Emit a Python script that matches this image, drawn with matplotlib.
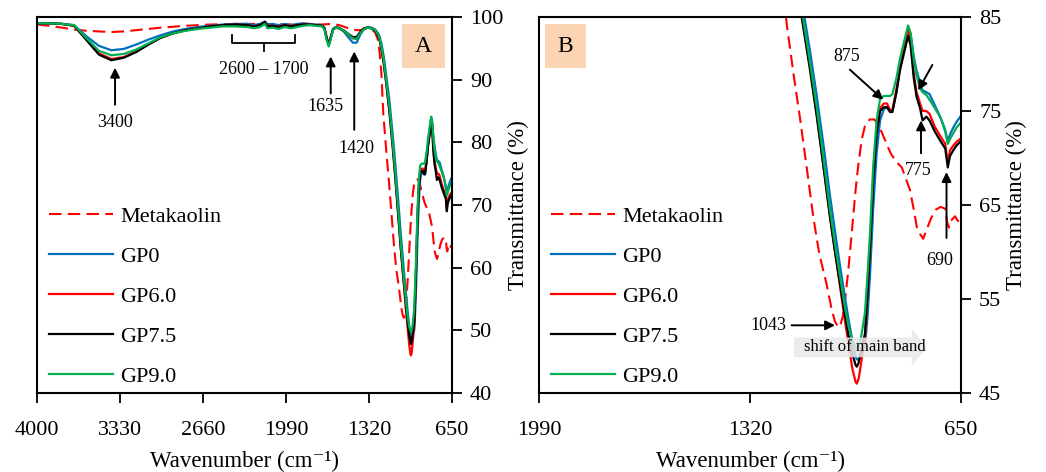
import numpy as np
import matplotlib.pyplot as plt
from matplotlib.patches import FancyArrow, Rectangle

plt.rcParams['font.family'] = ['Liberation Serif', 'DejaVu Serif']

# --- data ---
# wavenumber grid shared by the geopolymer spectra, cm-1
gp_wn = [4000, 3900, 3800, 3700, 3600, 3500, 3400, 3300, 3200, 3100,
         3000, 2900, 2800, 2700, 2600, 2500, 2400, 2300, 2250, 2200,
         2160, 2140, 2100, 2050, 2000, 1950, 1900, 1850, 1800, 1750,
         1700, 1680, 1660, 1645, 1630, 1610, 1590, 1560, 1520, 1480,
         1450, 1420, 1390, 1360, 1330, 1300, 1270, 1240, 1220, 1200,
         1180, 1156, 1130, 1108, 1085, 1066, 1050, 1034, 1020, 1008,
         995, 985, 981, 975, 968, 955, 947, 939, 929, 918,
         907, 895, 885, 875, 868, 855, 844, 830, 818, 810,
         800, 791, 780, 772, 760, 750, 733, 715, 700, 692,
         685, 675, 665, 650]

gp0 = [99.0, 99.0, 98.9, 98.7, 96.9, 95.4, 94.7, 94.9, 95.6, 96.4,
       97.1, 97.7, 98.1, 98.4, 98.6, 98.8, 98.9, 98.9, 98.7, 98.9,
       99.3, 98.8, 98.9, 98.7, 98.9, 98.7, 98.9, 99.0, 98.9, 98.8,
       98.7, 98.3, 96.6, 95.8, 96.8, 98.1, 98.4, 98.3, 97.6, 96.6,
       95.9, 95.9, 97.2, 98.1, 98.4, 98.3, 98.0, 97.2, 95.8, 93.6,
       90.5, 86.8, 81.5, 76.6, 71.0, 66.0, 62.2, 58.5, 55.5, 53.0,
       50.6, 49.0, 48.6, 48.5, 49.0, 50.0, 53.0, 57.5, 64.5, 70.5,
       74.0, 75.2, 75.4, 74.9, 74.9, 77.0, 79.5, 81.8, 83.9, 83.2,
       80.8, 79.3, 78.0, 77.2, 77.0, 76.8, 75.6, 74.3, 73.0, 71.7,
       72.5, 73.2, 73.8, 74.5]

gp6 = [99.0, 99.0, 98.9, 98.6, 96.4, 94.2, 93.3, 93.6, 94.5, 95.7,
       96.7, 97.4, 97.9, 98.2, 98.5, 98.7, 98.8, 98.7, 98.5, 98.7,
       99.1, 98.6, 98.6, 98.5, 98.7, 98.6, 98.7, 98.8, 98.8, 98.7,
       98.6, 98.2, 96.5, 95.5, 96.6, 98.0, 98.3, 98.2, 97.8, 97.1,
       96.6, 96.6, 97.5, 98.2, 98.3, 98.2, 97.8, 96.8, 95.0, 92.5,
       89.4, 85.2, 79.8, 74.7, 68.8, 63.8, 60.0, 56.3, 53.0, 50.4,
       47.6, 46.2, 46.0, 46.5, 48.0, 50.8, 55.4, 60.5, 67.8, 73.0,
       75.3, 75.8, 75.8, 75.1, 75.1, 77.3, 79.6, 81.7, 83.6, 82.6,
       79.0, 77.0, 75.8, 75.0, 75.0, 74.7, 73.3, 72.3, 71.5, 69.4,
       70.8, 71.3, 71.7, 72.1]

gp75 = [99.0, 99.0, 98.9, 98.6, 96.3, 94.0, 93.1, 93.5, 94.4, 95.6,
        96.7, 97.4, 97.9, 98.2, 98.5, 98.7, 98.8, 98.7, 98.5, 98.7,
        99.2, 98.5, 98.6, 98.4, 98.7, 98.5, 98.7, 98.8, 98.8, 98.7,
        98.6, 98.2, 96.5, 95.5, 96.6, 98.0, 98.3, 98.2, 97.8, 97.2,
        96.8, 96.8, 97.6, 98.2, 98.3, 98.2, 97.8, 96.8, 95.0, 92.5,
        89.3, 85.0, 79.5, 74.4, 68.6, 63.7, 60.0, 56.6, 53.6, 51.3,
        49.2, 48.0, 47.8, 48.2, 49.4, 51.3, 55.5, 60.2, 67.3, 72.6,
        75.0, 75.4, 75.4, 74.9, 74.9, 77.0, 79.3, 81.3, 83.0, 82.0,
        78.5, 76.5, 75.3, 74.0, 74.4, 74.0, 72.8, 71.8, 71.0, 69.0,
        70.2, 70.8, 71.3, 71.8]

gp9 = [99.0, 99.0, 98.9, 98.7, 96.6, 94.6, 93.9, 94.1, 94.8, 95.8,
       96.8, 97.4, 97.8, 98.1, 98.3, 98.5, 98.5, 98.4, 98.2, 98.4,
       98.9, 98.2, 98.3, 98.1, 98.4, 98.2, 98.4, 98.6, 98.7, 98.6,
       98.5, 98.0, 96.2, 95.3, 96.4, 97.9, 98.3, 98.2, 97.8, 97.1,
       96.6, 96.5, 97.4, 98.1, 98.3, 98.2, 97.9, 97.0, 95.3, 93.0,
       89.8, 85.8, 80.3, 75.4, 69.5, 64.5, 60.8, 57.4, 54.4, 52.2,
       50.5, 49.9, 49.8, 50.0, 50.8, 53.5, 57.5, 62.0, 69.0, 74.0,
       76.3, 76.6, 76.6, 76.6, 76.8, 78.5, 80.5, 82.5, 84.1, 83.3,
       80.5, 78.8, 77.4, 77.0, 76.7, 76.2, 75.3, 74.3, 72.8, 71.5,
       72.0, 72.6, 73.2, 73.8]

mk_wn = [4000, 3900, 3800, 3700, 3600, 3500, 3400, 3300, 3200, 3100,
         3000, 2800, 2600, 2400, 2200, 2000, 1800, 1700, 1620, 1560,
         1500, 1470, 1420, 1390, 1350, 1320, 1290, 1270, 1250, 1235,
         1220, 1204, 1180, 1161, 1140, 1119, 1100, 1077, 1060, 1050,
         1040, 1034, 1025, 1018, 1008, 997, 985, 976, 965, 955,
         940, 925, 910, 895, 880, 870, 850, 838, 825, 812,
         800, 790, 780, 770, 760, 745, 730, 715, 700, 694,
         688, 680, 669, 660, 650]

metakaolin = [98.8, 98.6, 98.3, 98.0, 97.8, 97.7, 97.6, 97.7, 97.9, 98.1,
              98.3, 98.6, 98.8, 98.9, 98.9, 98.8, 98.8, 98.8, 98.9, 98.7,
              98.3, 98.1, 97.9, 97.9, 98.1, 98.2, 97.9, 97.5, 96.5, 94.5,
              91.0, 84.4, 78.5, 74.2, 69.0, 63.7, 59.8, 56.6, 53.8, 52.6,
              52.0, 52.1, 53.2, 54.9, 58.0, 62.0, 66.5, 69.3, 72.0, 73.4,
              74.1, 74.1, 73.4, 72.2, 71.0, 70.3, 69.4, 69.0, 67.8, 66.6,
              64.5, 62.6, 61.9, 61.4, 62.3, 63.6, 64.5, 64.8, 64.6, 63.2,
              62.6, 63.4, 63.8, 63.3, 63.6]

labels = ['Metakaolin', 'GP0', 'GP6.0', 'GP7.5', 'GP9.0']
colors = ['#FF0000', '#0070C0', '#FF0000', '#000000', '#00B050']

xticks_a = [4000, 3330, 2660, 1990, 1320, 650]
xticks_b = [1990, 1320, 650]

W, H = 1046, 472
fig = plt.figure(figsize=(W / 100, H / 100), dpi=100)
ax_a = fig.add_axes([37 / W, 1 - 393 / H, 415 / W, 376 / H])
ax_b = fig.add_axes([539 / W, 1 - 393 / H, 422 / W, 376 / H])

gp_series = [gp0, gp6, gp75, gp9]

for ax in (ax_a, ax_b):
    ax.plot(mk_wn, metakaolin, color=colors[0], lw=1.5, dashes=(6, 3),
            label=labels[0])
    for y, lab, c in zip(gp_series, labels[1:], colors[1:]):
        ax.plot(gp_wn, y, color=c, lw=1.6, label=lab)
    ax.yaxis.tick_right()
    ax.yaxis.set_label_position('right')
    ax.tick_params(axis='both', direction='out', length=7, width=1.3,
                   labelsize=16)
    ax.tick_params(axis='x', pad=13)
    ax.tick_params(axis='y', pad=6)
    for s in ax.spines.values():
        s.set_linewidth(1.5)
    ax.set_xlabel('Wavenumber (cm⁻¹)', fontsize=16.5, labelpad=8)
    ax.set_ylabel('Transmittance (%)', fontsize=16.5, labelpad=3)

ax_a.set_xlim(4000, 650)
ax_a.set_ylim(40, 100)
ax_a.set_xticks(xticks_a)
ax_a.set_yticks(range(40, 101, 10))

ax_b.set_xlim(1990, 650)
ax_b.set_ylim(45, 85)
ax_b.set_xticks(xticks_b)
ax_b.set_yticks(range(45, 86, 10))

# legends
leg_kw = dict(loc='lower left', frameon=False, fontsize=16, handlelength=2.9,
              handletextpad=0.3, labelspacing=0.87, borderpad=0,
              borderaxespad=0)
ax_a.legend(bbox_to_anchor=(0.029, 0.017), **leg_kw)
ax_b.legend(bbox_to_anchor=(0.028, 0.017), **leg_kw)

# panel letters
for ax, letter, x0, w in ((ax_a, 'A', (401.7 - 37) / 415, 43.3 / 415),
                          (ax_b, 'B', (545 - 539) / 422, 40.7 / 422)):
    ax.add_patch(Rectangle((x0, 1 - 51.3 / 376), w, 44.3 / 376,
                           transform=ax.transAxes, facecolor='#FBD4B4',
                           edgecolor='none', zorder=6))
    ax.text(x0 + w / 2, 1 - 29.5 / 376, letter, transform=ax.transAxes,
            ha='center', va='center', fontsize=17, zorder=7)

arrow_kw = dict(arrowstyle='-|>', color='black', lw=1.4, mutation_scale=14,
                shrinkA=0, shrinkB=0)
ann_fs = 13

# panel A annotations
ax_a.annotate('', xy=(3370, 91.9), xytext=(3370, 86.0), arrowprops=arrow_kw)
ax_a.text(3370, 83.2, '3400', ha='center', va='center', fontsize=ann_fs)
ax_a.plot([2428, 2428, 1917, 1917], [97.1, 95.9, 95.9, 97.1], color='black', lw=1.3)
ax_a.plot([2170, 2170], [95.9, 94.6], color='black', lw=1.3)
ax_a.text(2170, 91.65, '2600 – 1700', ha='center', va='center', fontsize=ann_fs)
ax_a.annotate('', xy=(1629, 93.7), xytext=(1629, 87.8), arrowprops=arrow_kw)
ax_a.text(1675, 85.7, '1635', ha='center', va='center', fontsize=ann_fs)
ax_a.annotate('', xy=(1439, 94.5), xytext=(1439, 82.0), arrowprops=arrow_kw)
ax_a.text(1419, 79.0, '1420', ha='center', va='center', fontsize=ann_fs)

# panel B annotations
ax_b.annotate('', xy=(897, 76.2), xytext=(1003, 79.4), arrowprops=arrow_kw)
ax_b.text(1013, 80.8, '875', ha='center', va='center', fontsize=ann_fs)
ax_b.annotate('', xy=(786, 77.2), xytext=(741, 79.9), arrowprops=arrow_kw)
ax_b.annotate('', xy=(777, 74.0), xytext=(777, 70.5), arrowprops=arrow_kw)
ax_b.text(786, 68.7, '775', ha='center', va='center', fontsize=ann_fs)
ax_b.annotate('', xy=(696, 68.5), xytext=(696, 61.5), arrowprops=arrow_kw)
ax_b.text(717, 59.1, '690', ha='center', va='center', fontsize=ann_fs)
ax_b.annotate('', xy=(1050, 52.2), xytext=(1188, 52.2), arrowprops=arrow_kw)
ax_b.text(1204, 52.2, '1043', ha='right', va='center', fontsize=ann_fs)

ax_b.add_patch(FancyArrow(1180, 49.85, -422, 0, width=2.1, head_width=3.9,
                          head_length=48, length_includes_head=True,
                          facecolor='#E8E8E8', edgecolor='none', alpha=0.85,
                          zorder=5))
ax_b.text(1150, 49.85, 'shift of main band', ha='left', va='center',
          fontsize=12, zorder=6)

fig.savefig('out.png', dpi=100)
